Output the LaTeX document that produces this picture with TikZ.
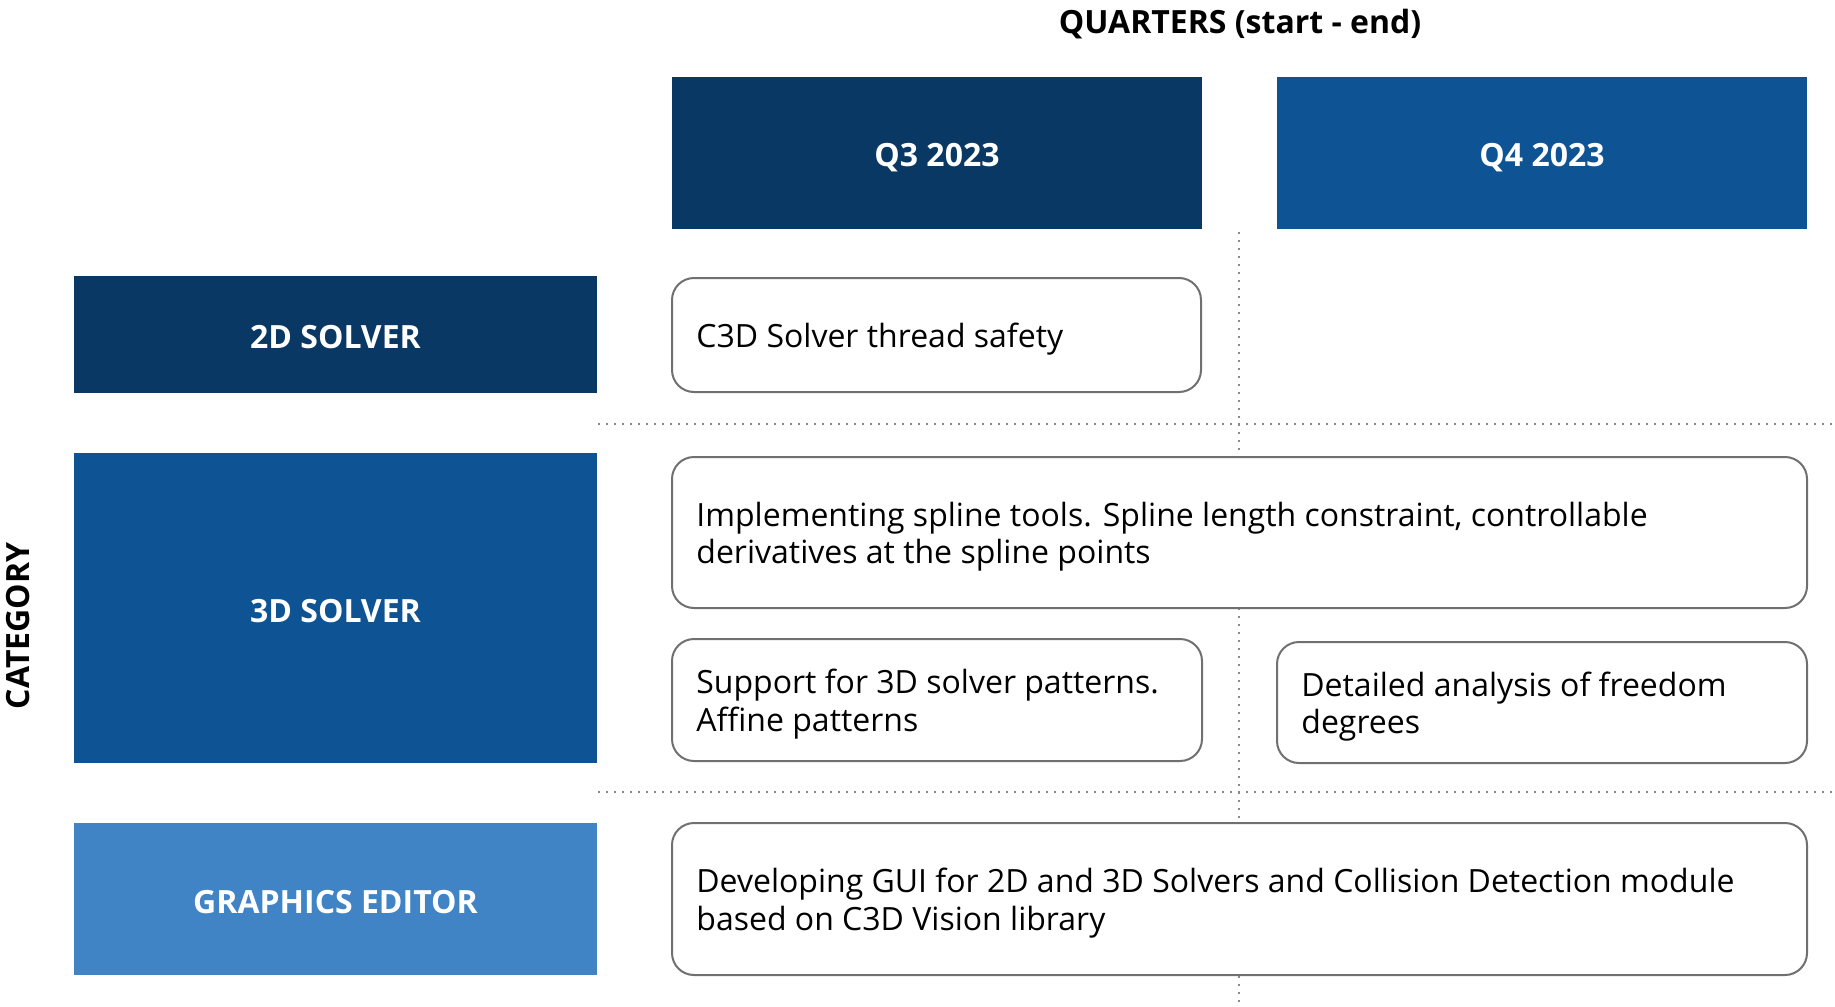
\documentclass[tikz,border=0pt]{standalone}
\usepackage{fontspec}
\setmainfont{Open Sans}
\definecolor{navy}{HTML}{0A3864}
\definecolor{midblue}{HTML}{0E5394}
\definecolor{lightblue}{HTML}{4084C6}
\definecolor{framegray}{HTML}{707070}
\definecolor{dotgray}{HTML}{8A8A8A}

\begin{document}
\begin{tikzpicture}[x=0.5pt,y=-0.5pt,
  capsline/.style={text height=11.4pt,text depth=0pt,font=\bfseries\fontsize{16}{18}\selectfont},
  headbox/.style={rectangle,inner sep=0pt,text=white,capsline,text height=14.4pt},
  taskbox/.style={rectangle,draw=framegray,line width=1pt,rounded corners=11pt,fill=white,inner sep=0pt},
  tasktext/.style={anchor=west,align=left,inner sep=0pt,yshift=-2pt,font=\fontsize{16}{18.6}\selectfont},
  gridline/.style={draw=dotgray,line width=1pt,dash pattern=on 1pt off 3pt}]
  \useasboundingbox (0,0) rectangle (1835,1006);

  \coordinate (vtop) at (1239,232);
  \coordinate (vbot) at (1239,1004);
  \coordinate (hal) at (598,424);
  \coordinate (har) at (1835,424);
  \coordinate (hbl) at (598,792);
  \coordinate (hbr) at (1835,792);
  \draw[gridline] (vtop) -- (vbot);
  \draw[gridline] (hal) -- (har);
  \draw[gridline] (hbl) -- (hbr);

  \node[capsline] (title) at (1240,22) {QUARTERS (start - end)};
  \node[capsline,rotate=90] (category) at (18,626) {CATEGORY};

  \node[headbox,fill=navy,minimum width=265pt,minimum height=76pt,text height=13pt] (q3) at (937,153) {Q3 2023};
  \node[headbox,fill=midblue,minimum width=265pt,minimum height=76pt,text height=13pt] (q4) at (1542,153) {Q4 2023};

  \node[headbox,fill=navy,minimum width=261.5pt,minimum height=58.5pt] (solver2d) at (335.5,334.5) {2D SOLVER};
  \node[headbox,fill=midblue,minimum width=261.5pt,minimum height=155pt] (solver3d) at (335.5,608) {3D SOLVER};
  \node[headbox,fill=lightblue,minimum width=261.5pt,minimum height=76pt] (editor) at (335.5,899) {GRAPHICS EDITOR};

  \node[taskbox,minimum width=264.5pt,minimum height=57pt] (safety) at (936.5,335) {};
  \node[tasktext] at ([xshift=12.5pt]safety.west) {C3D Solver thread safety};
  \node[taskbox,minimum width=567.5pt,minimum height=75.5pt] (spline) at (1239.5,532.5) {};
  \node[tasktext] at ([xshift=12.5pt]spline.west) {Implementing spline tools. Spline length constraint, controllable\\derivatives at the spline points};
  \node[taskbox,minimum width=265pt,minimum height=61pt] (patterns) at (937,700) {};
  \node[tasktext] at ([xshift=12.5pt]patterns.west) {Support for 3D solver patterns.\\Affine patterns};
  \node[taskbox,minimum width=265pt,minimum height=60.5pt] (freedom) at (1542,702.5) {};
  \node[tasktext] at ([xshift=12.5pt]freedom.west) {Detailed analysis of freedom\\degrees};
  \node[taskbox,minimum width=567.5pt,minimum height=76pt] (gui) at (1239.5,899) {};
  \node[tasktext] at ([xshift=12.5pt]gui.west) {Developing GUI for 2D and 3D Solvers and Collision Detection module\\based on C3D Vision library};
\end{tikzpicture}
\end{document}
